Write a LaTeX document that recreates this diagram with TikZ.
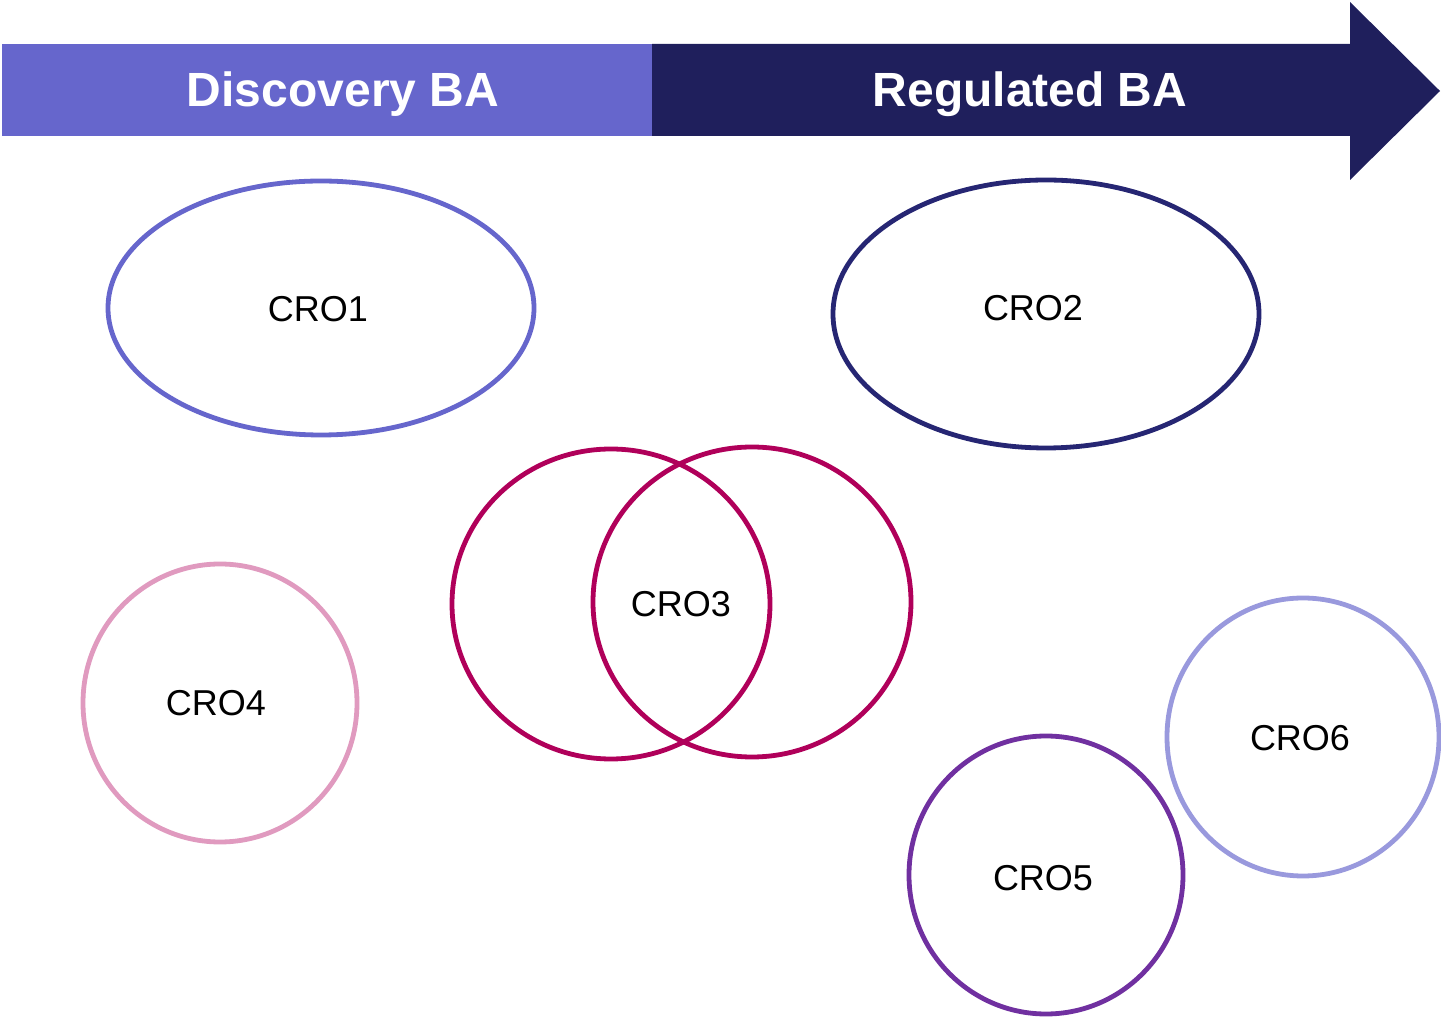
\documentclass[tikz,border=0pt]{standalone}
\usepackage{fontspec}
\setmainfont{Liberation Sans}
\usetikzlibrary{shapes.geometric}
\definecolor{discblue}{HTML}{6666CC}
\definecolor{regnavy}{HTML}{1F1F5C}
\definecolor{navyring}{HTML}{262673}
\definecolor{crimson}{HTML}{B0005A}
\definecolor{pinkring}{HTML}{E09ABF}
\definecolor{purpring}{HTML}{7030A0}
\definecolor{lilac}{HTML}{9999DD}
\begin{document}
\begin{tikzpicture}[x=0.5pt,y=-0.5pt,
  ring/.style={draw, line width=2.4pt, ellipse, inner sep=0pt},
  lbl/.style={font=\fontsize{18}{20}\selectfont, text=black},
  ttl/.style={font=\bfseries\fontsize{24}{26}\selectfont, text=white}]
\useasboundingbox (0,0) rectangle (1441,1020);
% bar
\fill[discblue] (2,44) rectangle (652,136);
\fill[regnavy] (652,44) -- (1350,44) -- (1350,2) -- (1440,91) -- (1350,180) -- (1350,136) -- (652,136) -- cycle;
\node[ttl] (disc) at (343,94) {Discovery BA};
\node[ttl] (reg) at (1030,94) {Regulated BA};
% rings
\node[ring, draw=discblue, minimum width=213pt, minimum height=127pt] (cro1) at (321,308) {};
\node[lbl] (t1) at (318,309) {CRO1};
\node[ring, draw=navyring, minimum width=213pt, minimum height=134pt] (cro2) at (1046,314) {};
\node[lbl] (t2) at (1033,308) {CRO2};
\node[ring, draw=crimson, minimum width=159pt, minimum height=155pt] (c3a) at (611,604) {};
\node[ring, draw=crimson, minimum width=159pt, minimum height=155pt] (c3b) at (752,602) {};
\node[lbl] (t3) at (681,604) {CRO3};
\node[ring, draw=pinkring, minimum width=137pt, minimum height=139pt] (cro4) at (220,703) {};
\node[lbl] (t4) at (216,703) {CRO4};
\node[ring, draw=purpring, minimum width=137pt, minimum height=139pt] (cro5) at (1046,875) {};
\node[lbl] (t5) at (1043,878) {CRO5};
\node[ring, draw=lilac, minimum width=136pt, minimum height=139pt] (cro6) at (1303,737) {};
\node[lbl] (t6) at (1300,738) {CRO6};
\end{tikzpicture}
\end{document}
